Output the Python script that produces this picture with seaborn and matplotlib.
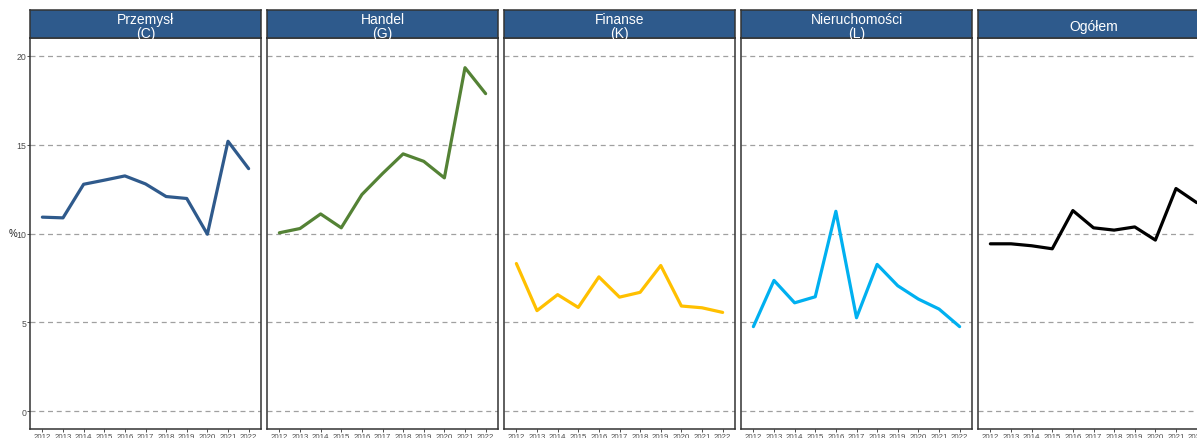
import numpy as np
import pandas as pd
import matplotlib
matplotlib.use("Agg")
import matplotlib.pyplot as plt
import seaborn as sns

years = list(range(2012, 2023))

przemysl = [10.92, 10.88, 12.77, 13.0, 13.24, 12.79, 12.08, 11.97, 9.96, 15.19, 13.65]
handel = [10.04, 10.28, 11.10, 10.32, 12.19, 13.37, 14.48, 14.06, 13.13, 19.33, 17.87]
finanse = [8.31, 5.66, 6.56, 5.84, 7.56, 6.42, 6.69, 8.20, 5.92, 5.82, 5.56]
nieruchomosci = [4.76, 7.36, 6.10, 6.44, 11.25, 5.26, 8.26, 7.06, 6.31, 5.75, 4.76]
ogolem = [9.42, 9.42, 9.31, 9.14, 11.29, 10.32, 10.19, 10.37, 9.63, 12.53, 11.74]

panels = ["Przemysł\n(C)", "Handel\n(G)", "Finanse\n(K)", "Nieruchomości\n(L)", "Ogółem"]
colors = ["#2F5A8C", "#548235", "#FFC000", "#00B0F0", "#000000"]

data = pd.DataFrame({
    "rok": years * 5,
    "wartosc": przemysl + handel + finanse + nieruchomosci + ogolem,
    "panel": [p for p in panels for _ in years],
})

sns.set_theme(style="white")
plt.rcParams['font.family'] = ['Liberation Sans', 'DejaVu Sans']

W, H = 1197, 439
fig = plt.figure(figsize=(W / 100, H / 100), dpi=100)

strip_col = "#2E5A8C"
for i, (name, col) in enumerate(zip(panels, colors)):
    left = 30 + i * 237
    ax = fig.add_axes([left / W, (H - 430) / H, 231 / W, 391 / H])
    sub = data[data["panel"] == name]
    for y in [0, 5, 10, 15, 20]:
        ax.axhline(y, color="#A0A0A0", lw=0.9, ls=(0, (4, 3)), zorder=0)
    sns.lineplot(data=sub, x="rok", y="wartosc", color=col, lw=2.3, ax=ax)
    ax.set_xlim(2011.4, 2022.6)
    ax.set_ylim(-1, 21)
    ax.set_xticks(years)
    ax.set_xticklabels([str(y) for y in years], fontsize=5.7, color="#4D4D4D")
    ax.set_xlabel("")
    ax.tick_params(axis="x", length=2, width=0.6, pad=1, color="#333333", bottom=True)
    ax.set_yticks([0, 5, 10, 15, 20])
    if i == 0:
        ax.set_yticklabels(["0", "5", "10", "15", "20"], fontsize=6.3, color="#4D4D4D")
        ax.tick_params(axis="y", length=2, width=0.6, pad=0.5, color="#333333", left=True)
        ax.set_ylabel("%", rotation=0, fontsize=7, color="#222222", labelpad=2.5, va="center")
    else:
        ax.set_yticklabels([])
        ax.tick_params(axis="y", length=0)
        ax.set_ylabel("")
    for s in ax.spines.values():
        s.set_color("#333333")
        s.set_linewidth(1.1)

    sax = fig.add_axes([left / W, (H - 39) / H, 231 / W, 28 / H])
    sax.set_facecolor(strip_col)
    sax.set_xticks([])
    sax.set_yticks([])
    for s in sax.spines.values():
        s.set_color("#333333")
        s.set_linewidth(1.1)
    sax.text(0.5, 0.43, name, ha="center", va="center", color="white",
             fontsize=10, linespacing=1.05, transform=sax.transAxes, clip_on=False)

fig.savefig("out.png", dpi=100)
